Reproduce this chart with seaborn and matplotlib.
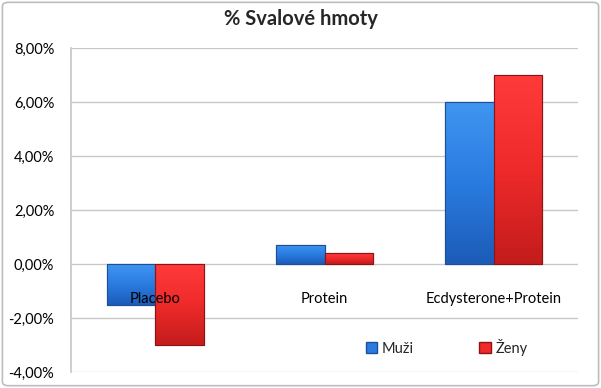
import matplotlib
matplotlib.use("Agg")
import matplotlib.pyplot as plt
import seaborn as sns
import numpy as np
import pandas as pd
from matplotlib.patches import Patch, FancyBboxPatch
from matplotlib.colors import LinearSegmentedColormap
from matplotlib.ticker import FuncFormatter

categories = ["Placebo", "Protein", "Ecdysterone+Protein"]
groups = ["Muži", "Ženy"]
muzi = [-1.5, 0.7, 6.0]
zeny = [-3.0, 0.4, 7.0]
y_ticks = [-4, -2, 0, 2, 4, 6, 8]

colors = {"Muži": "#2a7be0", "Ženy": "#f02a2a"}
edges = {"Muži": "#1b4f9a", "Ženy": "#8e1414"}
grads = {
    "Muži": ["#3f95f0", "#2a7be0", "#1c5cb8"],
    "Ženy": ["#ff3a3a", "#ee2a2a", "#c41c1c"],
}

df = pd.DataFrame({
    "category": categories * 2,
    "group": ["Muži"] * 3 + ["Ženy"] * 3,
    "value": muzi + zeny,
})

sns.set_theme(style="white")
plt.rcParams["font.family"] = ["Lato", "DejaVu Sans"]

fig = plt.figure(figsize=(6.01, 3.88), dpi=100)
ax = fig.add_axes([0.118, 0.041, 0.844, 0.835])

sns.barplot(
    data=df, x="category", y="value", hue="group",
    order=categories, hue_order=groups,
    palette=colors, saturation=1, width=0.57, dodge=True,
    legend=False, ax=ax, zorder=3,
)

# gradient fill clipped to each bar
grad = np.linspace(0, 1, 64).reshape(-1, 1)
for cont, g in zip(ax.containers, groups):
    cmap = LinearSegmentedColormap.from_list(g, grads[g])
    for bar in cont:
        bar.set_edgecolor(edges[g])
        bar.set_linewidth(0.8)
        x0, w = bar.get_x(), bar.get_width()
        y0, h = bar.get_y(), bar.get_height()
        lo, hi = min(y0, y0 + h), max(y0, y0 + h)
        im = ax.imshow(grad, cmap=cmap, aspect="auto", origin="upper",
                       extent=[x0, x0 + w, lo, hi], zorder=3.5)
        im.set_clip_path(bar)
        ax.add_patch(plt.Rectangle((x0, lo), w, hi - lo, facecolor="none",
                                   edgecolor=edges[g], linewidth=0.8, zorder=4))

ax.set_xlim(-0.5, len(categories) - 0.5)
ax.set_ylim(-4, 8)
ax.set_yticks(y_ticks)
ax.yaxis.set_major_formatter(FuncFormatter(lambda v, p: f"{v:.2f}%".replace(".", ",")))
ax.grid(axis="y", color="#c8c8c8", linewidth=1)
ax.set_axisbelow(True)
ax.xaxis.set_zorder(5)
ax.set_xlabel("")
ax.set_ylabel("")
for s in ["top", "right", "bottom"]:
    ax.spines[s].set_visible(False)
ax.spines["left"].set_color("#c8c8c8")
ax.spines["bottom"].set_position(("data", 0))
ax.tick_params(axis="x", length=0, pad=20, labelsize=10.5, colors="black")
ax.tick_params(axis="y", length=0, pad=12, labelsize=10.5, colors="black")

fig.text(0.5, 0.952, "% Svalové hmoty", ha="center", va="center",
         fontsize=14.5, fontweight="bold")

handles = [Patch(facecolor=colors[g], edgecolor=edges[g], label=g) for g in groups]
ax.legend(handles=handles, loc="center left", bbox_to_anchor=(0.555, 0.077),
          ncol=2, frameon=False, fontsize=10.5, handlelength=0.8,
          handleheight=0.8, handletextpad=0.3, columnspacing=4.5)

border = FancyBboxPatch((0.004, 0.006), 0.992, 0.988, boxstyle="round,pad=0,rounding_size=0.01",
                        transform=fig.transFigure, facecolor="none",
                        edgecolor="#bdbdbd", linewidth=1.2)
fig.patches.append(border)

fig.savefig("out.png", dpi=100)
